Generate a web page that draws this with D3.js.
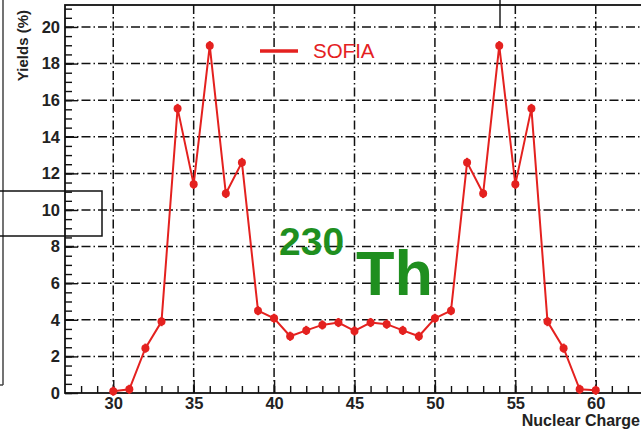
<!DOCTYPE html>
<html>
<head>
<meta charset="utf-8">
<script src="https://cdn.jsdelivr.net/npm/d3@7"></script>
<style>
  body { margin: 0; background: #fff; }
  svg { display: block; font-family: "Liberation Sans", Arial, sans-serif; }
  .tick text { font-weight: bold; font-size: 16.5px; fill: #222; }
  .grid line { stroke: #111; stroke-width: 1.5; stroke-dasharray: 9,3,1.5,3; }
</style>
</head>
<body>
<svg id="chart" width="641" height="431"></svg>
<script>
// data
const charges = d3.range(30, 61);
const yields = [0.1, 0.2, 2.45, 3.9, 15.55, 11.4, 18.98, 10.9, 12.6, 4.5,
  4.08, 3.1, 3.42, 3.72, 3.85, 3.39, 3.85, 3.76, 3.42, 3.1,
  4.08, 4.5, 12.6, 10.9, 18.98, 11.4, 15.55, 3.9, 2.45, 0.2, 0.15];
const yErr = 0.25;
const xTicks = [30, 35, 40, 45, 50, 55, 60];
const yTicks = [0, 2, 4, 6, 8, 10, 12, 14, 16, 18, 20];

const margin = { top: 5, right: -3, bottom: 38, left: 65 };
const W = 641, H = 431;
const width = W - margin.left - margin.right,
  height = H - margin.top - margin.bottom;

const svg = d3.select("#chart");
const red = "#e4211f", green = "#1f8f1f";

const x = d3.scaleLinear().domain([27, 63]).range([0, width]);
const y = d3.scaleLinear().domain([0, 21.2]).range([height, 0]);

// bits of neighbouring panels that got cropped in
svg.append("line").attr("x1", 3).attr("x2", 3).attr("y1", 0).attr("y2", 385)
  .attr("stroke", "#444").attr("stroke-width", 1.5);
svg.append("line").attr("x1", 0).attr("x2", 3).attr("y1", 385).attr("y2", 385)
  .attr("stroke", "#444").attr("stroke-width", 1.5);
svg.append("rect").attr("x", -2).attr("y", 191).attr("width", 104).attr("height", 45)
  .attr("fill", "none").attr("stroke", "#111").attr("stroke-width", 1.5);

const g = svg.append("g")
  .attr("transform", "translate(" + margin.left + "," + margin.top + ")");

// grid
g.append("g").attr("class", "grid")
  .selectAll("line").data(xTicks).join("line")
  .attr("x1", d => x(d)).attr("x2", d => x(d))
  .attr("y1", 0).attr("y2", height);
g.append("g").attr("class", "grid")
  .selectAll("line").data(yTicks.filter(d => d > 0)).join("line")
  .attr("x1", 0).attr("x2", width)
  .attr("y1", d => y(d)).attr("y2", d => y(d));

// minor ticks
g.append("g")
  .call(d3.axisLeft(y).tickValues(d3.range(0, 21.01, 0.5)).tickSize(-7).tickFormat(""))
  .call(s => s.select(".domain").remove())
  .selectAll("line").attr("stroke", "#111").attr("stroke-width", 1.4);
g.append("g").attr("transform", "translate(0," + height + ")")
  .call(d3.axisBottom(x).tickValues(d3.range(28, 63)).tickSize(-7).tickFormat(""))
  .call(s => s.select(".domain").remove())
  .selectAll("line").attr("stroke", "#111").attr("stroke-width", 1.4);

// major axes
g.append("g")
  .call(d3.axisLeft(y).tickValues(yTicks).tickSize(-13).tickPadding(5))
  .call(s => s.select(".domain").remove())
  .call(s => s.selectAll("line").attr("stroke", "#111").attr("stroke-width", 1.4));
g.append("g").attr("transform", "translate(0," + height + ")")
  .call(d3.axisBottom(x).tickValues(xTicks).tickSize(-13).tickPadding(4))
  .call(s => s.select(".domain").remove())
  .call(s => s.selectAll("line").attr("stroke", "#111").attr("stroke-width", 1.4));

// frame
g.append("rect").attr("width", width).attr("height", height)
  .attr("fill", "none").attr("stroke", "#111").attr("stroke-width", 1.8);

// stray line at top
svg.append("line").attr("x1", 500).attr("x2", 500).attr("y1", 0).attr("y2", 28)
  .attr("stroke", "#111").attr("stroke-width", 1.4);

// axis titles
svg.append("text")
  .attr("transform", "translate(28,10) rotate(-90)")
  .attr("text-anchor", "end")
  .attr("font-weight", "bold").attr("font-size", 15).attr("fill", "#222")
  .text("Yields (%)");
svg.append("text")
  .attr("x", 640).attr("y", 426)
  .attr("text-anchor", "end")
  .attr("font-weight", "bold").attr("font-size", 16).attr("fill", "#222")
  .text("Nuclear Charge");

// series
const pts = charges.map((c, i) => ({ c: c, v: yields[i] }));
const line = d3.line().x(d => x(d.c)).y(d => y(d.v));
g.append("path").datum(pts)
  .attr("d", line).attr("fill", "none")
  .attr("stroke", red).attr("stroke-width", 2);
g.selectAll(".err").data(pts).join("line").attr("class", "err")
  .attr("x1", d => x(d.c)).attr("x2", d => x(d.c))
  .attr("y1", d => y(d.v - yErr)).attr("y2", d => y(d.v + yErr))
  .attr("stroke", red).attr("stroke-width", 2.2);
g.selectAll(".pt").data(pts).join("circle").attr("class", "pt")
  .attr("cx", d => x(d.c)).attr("cy", d => y(d.v)).attr("r", 4)
  .attr("fill", red);

// legend
svg.append("line").attr("x1", 260).attr("x2", 298).attr("y1", 51).attr("y2", 51)
  .attr("stroke", red).attr("stroke-width", 3.5);
svg.append("text").attr("x", 313).attr("y", 58)
  .attr("font-size", 20.5).attr("fill", red)
  .text("SOFIA");

// isotope label
svg.append("text").attr("x", 279).attr("y", 255)
  .attr("font-size", 39).attr("font-weight", "bold").attr("fill", green)
  .text("230");
svg.append("text").attr("x", 356).attr("y", 295)
  .attr("font-size", 63).attr("font-weight", "bold").attr("fill", green)
  .text("Th");
</script>
</body>
</html>
